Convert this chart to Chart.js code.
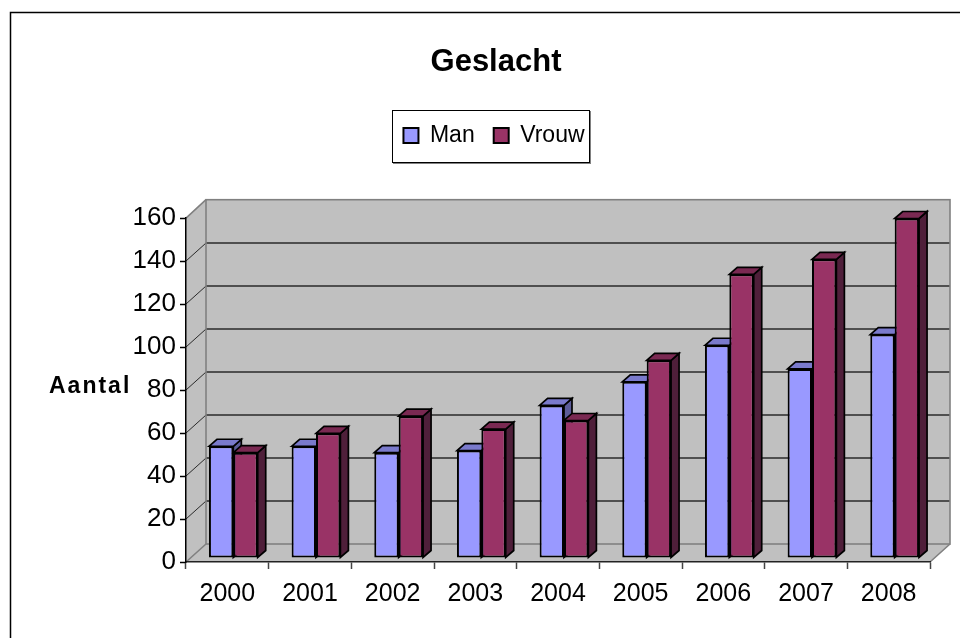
<!DOCTYPE html>
<html>
<head>
<meta charset="utf-8">
<style>html,body{margin:0;padding:0;background:#fff}canvas{display:block}</style>
<script src="https://cdn.jsdelivr.net/npm/chart.js@4"></script>
</head>
<body>
<canvas id="c" width="960" height="638"></canvas>
<script>
const categories = ['2000','2001','2002','2003','2004','2005','2006','2007','2008'];
const manValues = [52,52,49,50,71,82,99,88,104];
const vrouwValues = [49,58,66,60,64,92,132,139,158];
const gridValues = [20,40,60,80,100,120,140];
const titleText = 'Geslacht';
const axisText = 'Aantal';
const seriesNames = ['Man','Vrouw'];

const FONT = '"Liberation Sans", Arial, sans-serif';
const WALL_DX = 20, WALL_DY = 18;
const BAR_SHIFT_X = 6, BAR_SHIFT_Y = 4;
const BAR_DX = 8, BAR_DY = 7;
const shades = [
  {top:'#7A7ACC', side:'#5C5C99'},
  {top:'#7A2952', side:'#4F1F3A'}
];

function poly(ctx, pts, fill, stroke, lw){
  ctx.beginPath();
  pts.forEach((p,i)=> i?ctx.lineTo(p[0],p[1]):ctx.moveTo(p[0],p[1]));
  ctx.closePath();
  if(fill){ctx.fillStyle=fill;ctx.fill();}
  if(stroke){ctx.strokeStyle=stroke;ctx.lineWidth=lw;ctx.stroke();}
}

const decor = {
  id:'decor',
  afterLayout(chart){
    const lg = chart.legend;
    const shiftX = -2;
    lg.left += shiftX; lg.right += shiftX;
    lg.top = 105;
    lg.adjustHitBoxes && lg.adjustHitBoxes();
  },
  beforeDraw(chart){
    const ctx = chart.ctx, a = chart.chartArea, y = chart.scales.y;
    const dx = WALL_DX, dy = WALL_DY;
    ctx.save();
    // outer frame
    ctx.strokeStyle='#000'; ctx.lineWidth=1.5;
    ctx.beginPath(); ctx.moveTo(10.5,638); ctx.lineTo(10.5,12.5); ctx.lineTo(960,12.5); ctx.stroke();
    // legend frame with shadow
    ctx.fillStyle='#808080'; ctx.fillRect(393,111,198,53);
    ctx.fillStyle='#fff'; ctx.fillRect(392,110,198,53);
    ctx.strokeStyle='#000'; ctx.lineWidth=1; ctx.strokeRect(392.5,110.5,197,52);
    // walls
    const gray='#C0C0C0', edge='#808080';
    poly(ctx,[[a.left,a.top],[a.left+dx,a.top-dy],[a.left+dx,a.bottom-dy],[a.left,a.bottom]],gray);
    poly(ctx,[[a.left,a.bottom],[a.left+dx,a.bottom-dy],[a.right+dx,a.bottom-dy],[a.right,a.bottom]],gray);
    ctx.fillStyle=gray; ctx.fillRect(a.left+dx,a.top-dy-0.5,a.right-a.left,a.bottom-a.top+0.5);
    // gridlines on back wall and left wall
    ctx.strokeStyle='#2a2a2a';
    gridValues.forEach(v=>{
      const py = Math.round(y.getPixelForValue(v));
      ctx.lineWidth=1;
      ctx.beginPath(); ctx.moveTo(a.left,py); ctx.lineTo(a.left+dx,py-dy); ctx.stroke();
      ctx.lineWidth=1.3;
      ctx.beginPath(); ctx.moveTo(a.left+dx,py-dy); ctx.lineTo(a.right+dx,py-dy); ctx.stroke();
    });
    // wall edges
    ctx.strokeStyle=edge; ctx.lineWidth=1.6;
    ctx.strokeRect(a.left+dx,a.top-dy-0.5,a.right-a.left,a.bottom-a.top+0.5);
    ctx.beginPath();
    ctx.moveTo(a.left,a.top); ctx.lineTo(a.left+dx,a.top-dy-0.5);
    ctx.moveTo(a.left,a.bottom); ctx.lineTo(a.left+dx,a.bottom-dy);
    ctx.moveTo(a.right,a.bottom); ctx.lineTo(a.right+dx,a.bottom-dy);
    ctx.stroke();
    ctx.restore();
  },
  beforeDatasetsDraw(chart){
    const ctx = chart.ctx;
    ctx.save();
    ctx.translate(BAR_SHIFT_X,-BAR_SHIFT_Y);
    [0,1].forEach(i=>{
      const s = shades[i];
      chart.getDatasetMeta(i).data.forEach(el=>{
        const p = el.getProps(['x','y','base','width'],true);
        const l = p.x-p.width/2, r = p.x+p.width/2;
        poly(ctx,[[r,p.y],[r+BAR_DX,p.y-BAR_DY],[r+BAR_DX,p.base-BAR_DY],[r,p.base]],s.side,'#000',1.7);
        poly(ctx,[[l,p.y],[l+BAR_DX,p.y-BAR_DY],[r+BAR_DX,p.y-BAR_DY],[r,p.y]],s.top,'#000',1.7);
      });
    });
  },
  afterDatasetsDraw(chart){
    chart.ctx.restore();
  },
  afterDraw(chart){
    const ctx = chart.ctx;
    ctx.save();
    ctx.font='bold 23px '+FONT;
    ctx.letterSpacing='2px';
    ctx.fillStyle='#000';
    ctx.textAlign='left'; ctx.textBaseline='middle';
    ctx.fillText(axisText,49,387);
    ctx.restore();
  }
};

new Chart(document.getElementById('c').getContext('2d'),{
  type:'bar',
  plugins:[decor],
  data:{
    labels:categories,
    datasets:[
      {label:seriesNames[0],data:manValues,backgroundColor:'#9999FF',borderColor:'#000',borderWidth:2,borderSkipped:false,clip:false},
      {label:seriesNames[1],data:vrouwValues,backgroundColor:'#993366',borderColor:'#000',borderWidth:2,borderSkipped:false,clip:false}
    ]
  },
  options:{
    responsive:false,
    animation:false,
    datasets:{bar:{categoryPercentage:0.59,barPercentage:1}},
    layout:{autoPadding:false,padding:{left:62,right:30,top:0,bottom:0}},
    plugins:{
      tooltip:{enabled:false},
      title:{display:true,text:titleText,color:'#000',font:{family:FONT,size:31,weight:'bold'},padding:{top:44,bottom:85}},
      legend:{
        display:true,position:'top',align:'center',
        labels:{color:'#000',font:{family:FONT,size:23},boxWidth:15,boxHeight:15,padding:19}
      }
    },
    scales:{
      x:{
        offset:true,
        grid:{offset:true,drawOnChartArea:false,drawTicks:true,tickLength:7,tickColor:'#444',tickWidth:1.5},
        border:{color:'#222',width:1.5},
        ticks:{color:'#000',font:{family:FONT,size:25},padding:10,maxRotation:0,autoSkip:false},
        afterFit(s){s.height=76;}
      },
      y:{
        min:0,max:160,
        grid:{drawOnChartArea:false,drawTicks:true,tickLength:6,tickColor:'#000',tickWidth:1.5},
        border:{color:'#000',width:1.5},
        ticks:{color:'#000',font:{family:FONT,size:26},padding:4,stepSize:20},
        afterFit(s){s.width=124;}
      }
    }
  }
});
</script>
</body>
</html>
